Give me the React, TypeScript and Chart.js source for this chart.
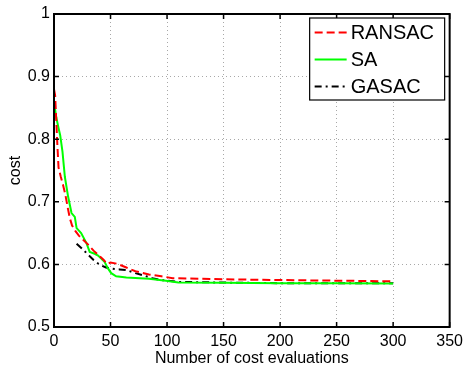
import React, { useEffect, useRef } from "react";
import { Chart, registerables } from "chart.js";

Chart.register(...registerables);

const ransacX = [0, 1, 2, 3, 4, 6, 8, 10, 12, 14, 16, 19, 22, 26, 30, 35, 40, 44, 47, 50, 56, 64, 72, 84, 95, 105, 130, 160, 200, 250, 300];
const ransacY = [0.88, 0.87, 0.83, 0.79, 0.755, 0.74, 0.727, 0.712, 0.692, 0.674, 0.662, 0.653, 0.646, 0.639, 0.632, 0.622, 0.614, 0.607, 0.601, 0.603, 0.601, 0.595, 0.589, 0.584, 0.581, 0.578, 0.577, 0.576, 0.575, 0.574, 0.573];

const saX = [0, 2, 4, 5.5, 7.5, 9.6, 12.5, 15.5, 18.4, 20, 24, 28.7, 31.6, 36, 39, 44.7, 47.6, 50.6, 55, 64, 84, 99, 110, 150, 200, 250, 300];
const saY = [0.86, 0.835, 0.818, 0.806, 0.78, 0.74, 0.708, 0.682, 0.676, 0.658, 0.65, 0.634, 0.62, 0.617, 0.614, 0.604, 0.594, 0.586, 0.581, 0.579, 0.577, 0.574, 0.571, 0.5705, 0.570, 0.570, 0.5695];

const gasacX = [20, 25, 30, 35, 40, 46, 52, 58, 64, 72, 80, 87, 95, 110, 150, 200, 250, 300];
const gasacY = [0.633, 0.625, 0.616, 0.607, 0.6, 0.595, 0.593, 0.592, 0.591, 0.586, 0.582, 0.578, 0.575, 0.572, 0.571, 0.57, 0.57, 0.57];

const seriesNames = ["RANSAC", "SA", "GASAC"];
const xTicks = [0, 50, 100, 150, 200, 250, 300, 350];
const yTicks = [0.5, 0.6, 0.7, 0.8, 0.9, 1];

const FONT = "'Liberation Sans', Arial, Helvetica, sans-serif";

const toPts = (xs: number[], ys: number[]) => xs.map((x, i) => ({ x, y: ys[i] }));

const framePlugin = {
  id: "frame",
  afterDraw(chart: any) {
    const ctx = chart.ctx as CanvasRenderingContext2D;
    const { left, right, top, bottom } = chart.chartArea;
    const xs = chart.scales.x;
    const ys = chart.scales.y;
    ctx.save();
    ctx.strokeStyle = "#000";
    ctx.lineWidth = 2;
    ctx.strokeRect(left, top, right - left, bottom - top);
    ctx.lineWidth = 1.5;
    ctx.beginPath();
    const tl = 5;
    xTicks.forEach((v) => {
      const px = xs.getPixelForValue(v);
      ctx.moveTo(px, bottom);
      ctx.lineTo(px, bottom - tl);
      ctx.moveTo(px, top);
      ctx.lineTo(px, top + tl);
    });
    yTicks.forEach((v) => {
      const py = ys.getPixelForValue(v);
      ctx.moveTo(left, py);
      ctx.lineTo(left + tl, py);
      ctx.moveTo(right, py);
      ctx.lineTo(right - tl, py);
    });
    ctx.stroke();

    // legend
    const bx = right - 140;
    const by = top + 4;
    const bw = 135;
    const bh = 82;
    ctx.fillStyle = "#fff";
    ctx.fillRect(bx, by, bw, bh);
    ctx.lineWidth = 1.2;
    ctx.strokeStyle = "#000";
    ctx.strokeRect(bx, by, bw, bh);
    const dss = chart.data.datasets;
    ctx.font = `20px ${FONT}`;
    ctx.textBaseline = "middle";
    ctx.textAlign = "left";
    dss.forEach((ds: any, i: number) => {
      const cy = by + 14.5 + i * 27;
      ctx.beginPath();
      ctx.strokeStyle = ds.borderColor;
      ctx.lineWidth = 2;
      ctx.setLineDash(ds.borderDash || []);
      ctx.moveTo(bx + 5, cy);
      ctx.lineTo(bx + 37, cy);
      ctx.stroke();
      ctx.setLineDash([]);
      ctx.fillStyle = "#000";
      ctx.fillText(ds.label, bx + 41, cy + 1);
    });
    ctx.restore();
  },
};

export default function App() {
  const ref = useRef<HTMLCanvasElement | null>(null);
  useEffect(() => {
    if (!ref.current) return;
    const chart = new Chart(ref.current, {
      type: "line",
      data: {
        datasets: [
          {
            label: seriesNames[0],
            data: toPts(ransacX, ransacY),
            borderColor: "#ff0000",
            borderWidth: 2,
            borderDash: [8, 4],
            pointRadius: 0,
            fill: false,
            tension: 0,
          },
          {
            label: seriesNames[1],
            data: toPts(saX, saY),
            borderColor: "#00ff00",
            borderWidth: 2,
            pointRadius: 0,
            fill: false,
            tension: 0,
          },
          {
            label: seriesNames[2],
            data: toPts(gasacX, gasacY),
            borderColor: "#000000",
            borderWidth: 2,
            borderDash: [7, 4, 2, 4],
            pointRadius: 0,
            fill: false,
            tension: 0,
          },
        ],
      },
      options: {
        animation: false,
        responsive: false,
        layout: { padding: { left: 0, right: 15, top: 14, bottom: 0 } },
        plugins: { legend: { display: false }, tooltip: { enabled: false } },
        scales: {
          x: {
            type: "linear",
            min: 0,
            max: 350,
            afterBuildTicks: (s: any) => {
              s.ticks = xTicks.map((v) => ({ value: v }));
            },
            afterFit: (s: any) => {
              s.height = 42;
            },
            grid: { color: "#a8a8a8", drawTicks: false, lineWidth: 1 },
            border: { display: false, dash: [1, 3] },
            ticks: {
              color: "#000",
              font: { family: FONT, size: 16 },
              padding: 5,
              maxRotation: 0,
              callback: (v: any) => String(v),
            },
            title: {
              display: true,
              text: "Number of cost evaluations",
              color: "#000",
              font: { family: FONT, size: 16 },
              padding: { top: 0, bottom: 1 },
            },
          },
          y: {
            type: "linear",
            min: 0.5,
            max: 1,
            afterBuildTicks: (s: any) => {
              s.ticks = yTicks.map((v) => ({ value: v }));
            },
            afterFit: (s: any) => {
              s.width = 54;
            },
            grid: { color: "#a8a8a8", drawTicks: false, lineWidth: 1 },
            border: { display: false, dash: [1, 3] },
            ticks: {
              color: "#000",
              font: { family: FONT, size: 16 },
              padding: 4,
              callback: (v: any) => (Math.abs(v - 1) < 1e-9 ? "1" : Number(v).toFixed(1)),
            },
            title: {
              display: true,
              text: "cost",
              color: "#000",
              font: { family: FONT, size: 16 },
              padding: { top: 6, bottom: 4 },
            },
          },
        },
      },
      plugins: [framePlugin],
    } as any);
    return () => chart.destroy();
  }, []);
  return (
    <div style={{ position: "fixed", left: 0, top: 0, width: 468, height: 369, background: "#fff" }}>
      <canvas ref={ref} width={468} height={369} />
    </div>
  );
}
